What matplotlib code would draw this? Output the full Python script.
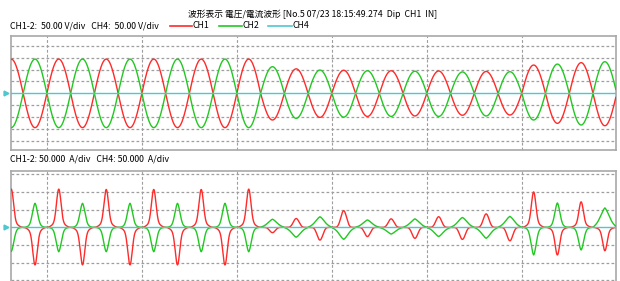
import numpy as np
import matplotlib
matplotlib.use("Agg")
import matplotlib.pyplot as plt
from matplotlib.lines import Line2D

plt.rcParams['font.family'] = ['Liberation Sans Narrow', 'Noto Sans CJK JP', 'DejaVu Sans']

# ---------------- data (per half-cycle, 50 Hz, half-cycle peaks at -15 + 10k ms) ----------------
title = "波形表示 電圧/電流波形 [No.5 07/23 18:15:49.274  Dip  CH1  IN]"
volt_label = "CH1-2:  50.00 V/div   CH4:  50.00 V/div"
curr_label = "CH1-2: 50.000  A/div   CH4: 50.000  A/div"
series_names = ["CH1", "CH2", "CH4"]

# voltage peak magnitude (V) of each half cycle
v1_peak = [144, 144, 144, 144, 144, 144, 144, 144, 144, 144, 144,
           112, 103, 101, 97, 97, 95, 95, 94, 92, 92, 91,
           119, 126, 129, 136]
v2_peak = [144, 144, 144, 144, 144, 144, 144, 144, 144, 144, 144,
           112, 105, 98, 100, 95, 97, 93, 97, 90, 95, 91,
           112, 123, 133, 133]
# current peak (signed, A) of each half cycle
i1_peak = [108, -106, 108, -106, 107, -106, 107, -106, 107, -106, 108,
           -15, 25, -36, 47, -26, 24, -31, 30, -34, 38, -38,
           100, -78, 72, -66]
i2_peak = [-68, 68, -69, 68, -69, 68, -69, 68, -69, 68, -69,
           23, -28, 30, -34, 21, -19, 24, -26, 28, -31, 31,
           -78, 69, -64, 55]
ch4_level = 0.0

# ---------------- styling ----------------
RED = '#FF2A2A'
GREEN = '#22C822'
CYAN = '#4CC8D0'
GRID = '#9E9E9E'
BORDER = '#A8A8A8'

W, H = 620, 281
fig = plt.figure(figsize=(W / 100, H / 100), dpi=100)
fig.patch.set_facecolor('white')

def fx(px):
    return px / W

def fy(py):
    return 1 - py / H

xl, xr = 10.7, 615.8
ax1 = fig.add_axes([fx(xl), fy(150), fx(xr) - fx(xl), fy(36) - fy(150)])
ax2 = fig.add_axes([fx(xl), fy(284), fx(xr) - fx(xl), fy(170.7) - fy(284)])

T = 20.0
t = np.linspace(-15.24, 239.6, 4000)
k = np.clip(np.floor((t + 20) / 10).astype(int), 0, len(v1_peak) - 1)
theta = 2 * np.pi * (t - (-15 + 10 * k)) / T
base = np.sin(2 * np.pi * t / T)

v1 = np.asarray(v1_peak)[k] * base
v2 = -np.asarray(v2_peak)[k] * base

def red_shape(th, big):
    c = np.clip(np.cos(th), 0, 1)
    return np.where(big, 0.85 * c ** 12 + 0.15 * c ** 2, c ** 7)

def green_shape(th, big):
    c = np.clip(np.cos(th), 0, 1)
    tri = np.clip(1 - np.abs(th) / (np.pi / 2), 0, 1)
    return np.where(big, 0.75 * c ** 9 + 0.25 * tri ** 2, 0.6 * tri + 0.4 * c ** 4)

I1 = np.asarray(i1_peak, dtype=float)[k]
I2 = np.asarray(i2_peak, dtype=float)[k]
i1 = I1 * red_shape(theta, np.abs(I1) > 55)
i2 = I2 * green_shape(theta, np.abs(I2) > 55)

def style(ax, ylim, step, nmax):
    ax.set_xlim(-15.24, 239.6)
    ax.set_ylim(*ylim)
    for v in range(-nmax, nmax + 1):
        if v == 0:
            continue
        ax.axhline(v * step, color=GRID, lw=0.9, ls=(0, (2.2, 1.8)), zorder=1)
    for xv in range(0, 240, 40):
        ax.axvline(xv, color=GRID, lw=0.8, ls=(0, (2.6, 1.8)), zorder=1)
    ax.set_xticks([])
    ax.set_yticks([])
    for s in ax.spines.values():
        s.set_color(BORDER)
        s.set_linewidth(1.2)

style(ax1, (-238, 241), 50, 4)
style(ax2, (-160, 160), 50, 3)

ax1.plot(t, v1, color=RED, lw=1.0, zorder=3)
ax1.plot(t, v2, color=GREEN, lw=1.0, zorder=3)
ax1.axhline(ch4_level, color=CYAN, lw=1.0, zorder=4)
ax2.plot(t, i1, color=RED, lw=1.0, zorder=3)
ax2.plot(t, i2, color=GREEN, lw=1.0, zorder=3)
ax2.axhline(ch4_level, color=CYAN, lw=1.0, zorder=4)

for ax in (ax1, ax2):
    ax.plot([-0.008], [ch4_level], marker='>', color=CYAN, ms=3.5,
            transform=ax.get_yaxis_transform(), clip_on=False, zorder=5)

fs = 6.3
fig.text(fx(313), fy(14.5), title, ha='center', va='center', fontsize=fs)
fig.text(fx(10), fy(25.5), volt_label, ha='left', va='center', fontsize=fs)
fig.text(fx(10), fy(159), curr_label, ha='left', va='center', fontsize=fs)

leg = [(170, 191.7, RED, series_names[0]),
       (219, 241.7, GREEN, series_names[1]),
       (268.3, 291.7, CYAN, series_names[2])]
for x0, x1, col, name in leg:
    fig.add_artist(Line2D([fx(x0), fx(x1)], [fy(25.5), fy(25.5)], color=col, lw=1.2))
    fig.text(fx(x1 + 0.5), fy(25.5), name, ha='left', va='center', fontsize=fs)

fig.savefig('out.png', dpi=100)
